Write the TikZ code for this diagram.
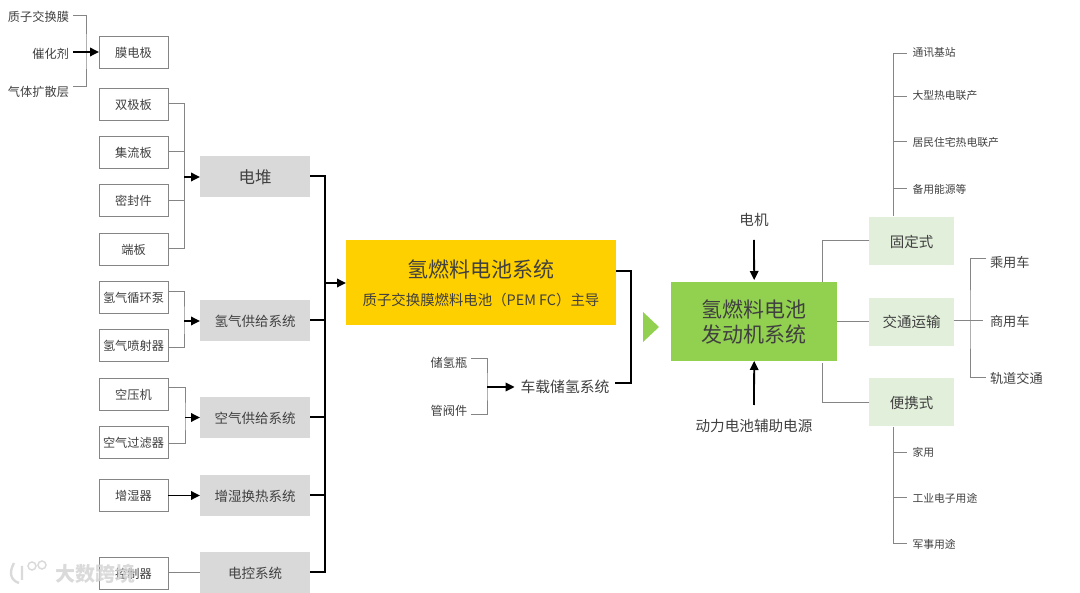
\documentclass[tikz,border=0pt]{standalone}
\usepackage{fontspec}
\setmainfont{Noto Sans CJK SC}
\usetikzlibrary{arrows.meta}
\definecolor{txt}{HTML}{404040}
\definecolor{linegray}{HTML}{858585}
\definecolor{graybox}{HTML}{D9D9D9}
\definecolor{yellowbox}{HTML}{FFD000}
\definecolor{greenbox}{HTML}{92D050}
\definecolor{paleg}{HTML}{E2EFDA}
\definecolor{wmark}{HTML}{D4D4D4}
\newcommand{\fs}[1]{\fontsize{#1}{#1}\selectfont}
\tikzset{
  every node/.style={inner sep=0pt,outer sep=0pt,text=txt,align=center},
  partbox/.style={draw=linegray,line width=0.8pt,fill=white,minimum width=69pt,minimum height=32pt,font=\fs{12.2},text height=12.9pt,text depth=2pt},
  sysbox/.style={fill=graybox,minimum width=110pt,minimum height=41pt,font=\fs{13.5},text height=13.9pt,text depth=2pt},
  appbox/.style={fill=paleg,minimum width=84.5pt,minimum height=48pt,font=\fs{14.5},text height=14.6pt,text depth=2pt},
  leaf/.style={anchor=west,font=\fs{10.8},inner xsep=5.5pt},
  leafm/.style={anchor=west,font=\fs{13.2},inner xsep=4pt},
  inlabel/.style={anchor=east,font=\fs{12.2},inner xsep=4pt},
  thinl/.style={draw=linegray,line width=1pt},
  boldl/.style={draw=black,line width=2pt},
  arr/.style={draw=black,line width=1.8pt,-{Triangle[length=9pt,width=8.5pt]}}
}
\begin{document}
\begin{tikzpicture}[x=1pt,y=-1pt]
\useasboundingbox (0,0) rectangle (1080,593);
% left inputs
\node[inlabel] (p1) at (73,16.5) {质子交换膜};
\node[inlabel] (p2) at (73,54) {催化剂};
\node[inlabel] (p3) at (73,91.5) {气体扩散层};
\node[partbox] (mea) at (133.5,52) {膜电极};
\coordinate (jm) at (86,52);
\draw[thinl] (p1.east |- 0,16) -| (jm) |- (p3.east |- 0,87);
\draw[arr] (p2.east |- jm) -- (mea.west);
% stack parts
\node[partbox] (b1) at (133.5,104) {双极板};
\node[partbox] (b2) at (133.5,152) {集流板};
\node[partbox] (b3) at (133.5,200.5) {密封件};
\node[partbox] (b4) at (133.5,249) {端板};
\node[sysbox,font=\fs{16.5},text height=16.1pt] (stack) at (255,176.5) {电堆};
\coordinate (js) at (184,177);
\draw[thinl] (b1.east) -| (js) (b4.east) -| (js) (b2.east) -- (b2.east -| js) (b3.east) -- (b3.east -| js);
\draw[arr] (js) -- (stack.west |- js);
% hydrogen supply
\node[partbox] (h1) at (133.5,297) {氢气循环泵};
\node[partbox] (h2) at (133.5,345.5) {氢气喷射器};
\node[sysbox] (hsys) at (255,320.5) {氢气供给系统};
\coordinate (jh) at (184,321);
\draw[thinl] (h1.east |- 0,292) -| (jh) |- (h2.east |- 0,348);
\draw[arr] (jh) -- (hsys.west |- jh);
% air supply
\node[partbox] (a1) at (133.5,394) {空压机};
\node[partbox] (a2) at (133.5,442.5) {空气过滤器};
\node[sysbox] (asys) at (255,417.5) {空气供给系统};
\coordinate (ja) at (185,417.5);
\draw[thinl] (a1.east |- 0,388) -| (ja) |- (a2.east |- 0,444);
\draw[arr] (ja) -- (asys.west);
% humidifier
\node[partbox] (w1) at (133.5,495.5) {增湿器};
\node[sysbox] (wsys) at (255,495.5) {增湿换热系统};
\draw[arr] (w1.east) -- (wsys.west);
% controller
\node[partbox] (c1) at (133.5,573) {控制器};
\node[sysbox] (csys) at (255,572.5) {电控系统};
\draw[thinl] (c1.east) -- (csys.west |- c1.east);
% main bus
\node[fill=yellowbox,minimum width=270pt,minimum height=85pt] (fc) at (481,282.5) {};
\node[font=\fs{21}] (fct) at (481,269.5) {氢燃料电池系统};
\node[font=\fs{14.4}] (fcs) at (481,300.5) {质子交换膜燃料电池（PEM FC）主导};
\coordinate (bus) at (325,283);
\draw[boldl] (stack.east) -| (bus);
\draw[boldl] (csys.east) -| (bus);
\draw[boldl] (hsys.east) -- (hsys.east -| bus);
\draw[boldl] (asys.east) -- (asys.east -| bus);
\draw[boldl] (wsys.east) -- (wsys.east -| bus);
\draw[arr] (bus) -- (fc.west |- bus);
% storage
\node[font=\fs{12.2},inner xsep=4pt] (s1) at (449,363) {储氢瓶};
\node[font=\fs{12.2},inner xsep=4pt] (s2) at (449,411) {管阀件};
\node[font=\fs{14.8},inner xsep=6pt] (ssys) at (565,387) {车载储氢系统};
\coordinate (jst) at (487,387);
\draw[thinl] (s1.east |- 0,359) -| (jst) |- (s2.east |- 0,415);
\draw[arr] (jst) -- (ssys.west |- jst);
\coordinate (jfc) at (631,320);
\draw[boldl] (fc.east |- 0,271) -| (jfc) |- (ssys.east |- 0,383);
% triangle
\fill[greenbox] (643,312) -- (659,327) -- (643,342) -- cycle;
% engine
\node[fill=greenbox,minimum width=166.5pt,minimum height=79pt] (eng) at (754.2,321.5) {};
\node[font=\fs{21}] (eng1) at (754,309.5) {氢燃料电池};
\node[font=\fs{21}] (eng2) at (754,334.5) {发动机系统};
\node[font=\fs{14.6}] (mot) at (754,219.5) {电机};
\node[font=\fs{14.6}] (bat) at (754,425.5) {动力电池辅助电源};
\coordinate (mots) at (754,240);
\coordinate (bats) at (754,405);
\draw[arr,shorten >=2pt] (mots) -- (eng.north);
\draw[arr] (bats) -- (eng.south);
% applications
\node[appbox] (fix) at (911.7,241) {固定式};
\node[appbox] (tra) at (911.7,321.7) {交通运输};
\node[appbox] (por) at (911.7,402.5) {便携式};
\coordinate (e1) at (822,282);
\coordinate (e2) at (822,363);
\draw[thinl] (fix.west) -| (e1);
\draw[thinl] (por.west) -| (e2);
\draw[thinl] (eng.east |- tra.west) -- (tra.west);
% stationary leaves
\node[leaf] (l1) at (907,52.5) {通讯基站};
\node[leaf] (l2) at (907,95.5) {大型热电联产};
\node[leaf] (l3) at (907,142.5) {居民住宅热电联产};
\node[leaf] (l4) at (907,189.5) {备用能源等};
\coordinate (t0) at (893,54);
\coordinate (t1) at (893,216);
\draw[thinl] (t1) -- (t0) -- (l1.west |- t0);
\draw[thinl] (893,97) -- (l2.west |- 0,97);
\draw[thinl] (893,142) -- (l3.west |- 0,142);
\draw[thinl] (893,189) -- (l4.west |- 0,189);
% portable leaves
\node[leaf] (l5) at (907,452.5) {家用};
\node[leaf] (l6) at (907,498.5) {工业电子用途};
\node[leaf] (l7) at (907,544.5) {军事用途};
\coordinate (b0) at (893,427);
\draw[thinl] (b0) |- (l7.west |- 0,544);
\draw[thinl] (893,453) -- (l5.west |- 0,453);
\draw[thinl] (893,498) -- (l6.west |- 0,498);
% transport leaves
\node[leafm] (m1) at (986,262.5) {乘用车};
\node[leafm] (m2) at (986,321.5) {商用车};
\node[leafm] (m3) at (986,378.5) {轨道交通};
\coordinate (mj) at (970,321);
\coordinate (me) at (983,321);
\draw[thinl] (m1.west |- 0,259) -| (mj) |- (m3.west |- 0,378);
\draw[thinl] (tra.east |- me) -- (me);
% watermark
\begin{scope}[opacity=0.85]
\draw[wmark,line width=2.4pt] (14,563) .. controls (9,572) and (10,580) .. (19,583) (22,566) -- (22,580);
\draw[wmark,line width=1.5pt] (32,566) circle (4pt) (42,565) circle (4pt);
\node[text=wmark,font=\bfseries\fs{20}] (wm) at (96,574) {大数跨境};
\end{scope}
\end{tikzpicture}
\end{document}
